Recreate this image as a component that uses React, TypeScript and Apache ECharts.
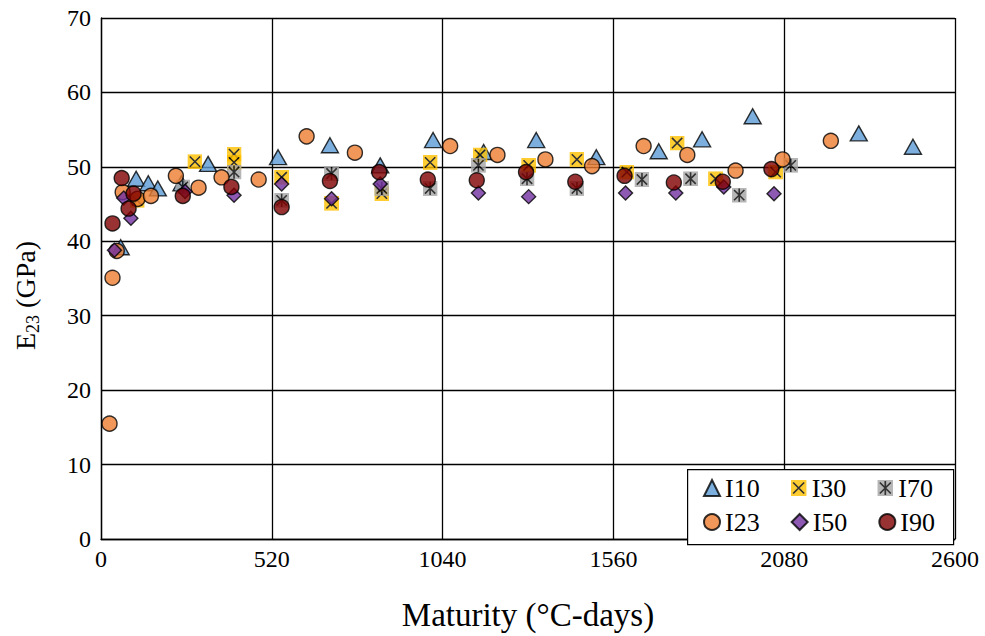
import React, { useEffect, useRef } from "react";
import * as echarts from "echarts";

const xTicks = [0, 520, 1040, 1560, 2080, 2600];
const yTicks = [0, 10, 20, 30, 40, 50, 60, 70];

const i10X = [60, 107, 144, 173, 245, 326, 539, 697, 850, 1011, 1165, 1325, 1508, 1698, 1830, 1984, 2307, 2472];
const i10Y = [39.2, 48.4, 47.8, 47.1, 47.8, 50.4, 51.3, 52.9, 50.2, 53.6, 52.0, 53.6, 51.3, 52.1, 53.7, 56.8, 54.5, 52.7];

const i30X = [110, 286, 405, 405, 550, 702, 855, 1002, 1154, 1302, 1449, 1601, 1754, 1871, 2054];
const i30Y = [45.5, 50.7, 51.7, 50.6, 48.6, 45.1, 46.4, 50.6, 51.6, 50.2, 51.0, 49.3, 53.2, 48.4, 49.3];

const i70X = [249, 405, 550, 702, 855, 1002, 1149, 1297, 1449, 1647, 1795, 1943, 2100];
const i70Y = [47.3, 49.3, 45.5, 49.1, 47.1, 47.1, 50.2, 48.4, 47.1, 48.3, 48.4, 46.2, 50.2];

const i23X = [26, 35, 48, 66, 111, 152, 228, 297, 367, 480, 626, 773, 1063, 1207, 1353, 1495, 1652, 1785, 1932, 2075, 2222];
const i23Y = [15.5, 35.1, 38.7, 46.6, 45.7, 46.1, 48.8, 47.2, 48.6, 48.3, 54.1, 51.9, 52.8, 51.6, 51.0, 50.1, 52.8, 51.6, 49.5, 51.0, 53.5];

const i50X = [41, 69, 91, 256, 405, 550, 702, 850, 1149, 1302, 1597, 1750, 1896, 2049];
const i50Y = [38.8, 45.8, 43.1, 46.7, 46.2, 47.7, 45.7, 47.7, 46.5, 46.0, 46.5, 46.5, 47.3, 46.4];

const i90X = [35, 63, 84, 99, 249, 397, 550, 697, 847, 995, 1144, 1294, 1444, 1594, 1744, 1893, 2041];
const i90Y = [42.4, 48.5, 44.4, 46.4, 46.1, 47.3, 44.6, 48.1, 49.3, 48.3, 48.2, 49.3, 48.0, 48.8, 47.9, 48.0, 49.7];

const FONT = "'Liberation Serif', 'Times New Roman', serif";

const zip = (xs: number[], ys: number[]) => xs.map((x, i) => [x, ys[i]]);

const svgIcon = (fill: string, path: string) =>
  "image://data:image/svg+xml;utf8," +
  encodeURIComponent(
    `<svg xmlns='http://www.w3.org/2000/svg' width='16' height='16' viewBox='0 0 16 16'><rect width='16' height='16' fill='${fill}'/><path d='${path}' stroke='black' stroke-width='1.7' fill='none'/></svg>`
  );

const xSym = svgIcon("#FFC000", "M2.5 2.5L13.5 13.5M13.5 2.5L2.5 13.5");
const starSym = svgIcon("#A5A5A5", "M2.5 2.5L13.5 13.5M13.5 2.5L2.5 13.5M8 1V15");

export default function App() {
  const ref = useRef<HTMLDivElement>(null);
  useEffect(() => {
    document.body.style.margin = "0";
    const chart = echarts.init(ref.current!, undefined, { renderer: "svg" });
    const border = { borderColor: "#000", borderWidth: 1.4 };
    const option: any = {
      animation: false,
      backgroundColor: "#fff",
      textStyle: { fontFamily: FONT },
      grid: { left: 101, right: 30, top: 18, bottom: 92, containLabel: false },
      xAxis: {
        type: "value",
        min: 0,
        max: 2600,
        interval: 520,
        name: "Maturity (°C-days)",
        nameLocation: "middle",
        nameGap: 59,
        nameTextStyle: { fontFamily: FONT, fontSize: 33, color: "#000" },
        axisLine: { show: true, lineStyle: { color: "#000", width: 1.3 } },
        axisTick: { show: false },
        axisLabel: {
          fontFamily: FONT,
          fontSize: 24,
          color: "#000",
          margin: 8,
          formatter: (v: number) => (xTicks.includes(v) ? String(v) : ""),
        },
        splitLine: { show: true, lineStyle: { color: "#000", width: 1.3 } },
      },
      yAxis: {
        type: "value",
        min: 0,
        max: 70,
        interval: 10,
        name: "{a|E}{b|23}{a| (GPa)}",
        nameLocation: "middle",
        nameRotate: 90,
        nameGap: 59,
        nameTextStyle: {
          color: "#000",
          padding: [0, 34, 0, 0],
          rich: {
            a: { fontFamily: FONT, fontSize: 28, color: "#000", lineHeight: 34, verticalAlign: "middle" },
            b: { fontFamily: FONT, fontSize: 18, color: "#000", lineHeight: 20, verticalAlign: "bottom" },
          },
        },
        axisLine: { show: true, lineStyle: { color: "#000", width: 1.3 } },
        axisTick: { show: false },
        axisLabel: {
          fontFamily: FONT,
          fontSize: 24,
          color: "#000",
          margin: 10,
          formatter: (v: number) => (yTicks.includes(v) ? String(v) : ""),
        },
        splitLine: { show: true, lineStyle: { color: "#000", width: 1.3 } },
      },
      graphic: [
        {
          type: "rect",
          left: 687,
          top: 469,
          z: 10,
          shape: { width: 266, height: 75 },
          style: { fill: "#fff", stroke: "#000", lineWidth: 1.2 },
        },
      ],
      legend: [
        {
          data: ["I10", "I30", "I70"],
          left: 703,
          top: 475,
          z: 20,
          padding: 0,
          itemWidth: 16,
          itemHeight: 16,
          itemGap: 31,
          textStyle: { fontFamily: FONT, fontSize: 26, color: "#000", lineHeight: 26 },
        },
        {
          data: ["I23", "I50", "I90"],
          left: 703,
          top: 509,
          z: 20,
          padding: 0,
          itemWidth: 16,
          itemHeight: 16,
          itemGap: 31,
          textStyle: { fontFamily: FONT, fontSize: 26, color: "#000", lineHeight: 26 },
        },
      ],
      series: [
        {
          name: "I10",
          type: "scatter",
          symbol: "triangle",
          symbolSize: [17, 15],
          itemStyle: { color: "#5B9BD5", ...border },
          data: zip(i10X, i10Y),
        },
        {
          name: "I30",
          type: "scatter",
          symbol: xSym,
          symbolSize: 15,
          itemStyle: { color: "#FFC000" },
          data: zip(i30X, i30Y),
        },
        {
          name: "I70",
          type: "scatter",
          symbol: starSym,
          symbolSize: 15,
          itemStyle: { color: "#A5A5A5" },
          data: zip(i70X, i70Y),
        },
        {
          name: "I23",
          type: "scatter",
          symbol: "circle",
          symbolSize: 15,
          itemStyle: { color: "#ED7D31", ...border },
          data: zip(i23X, i23Y),
        },
        {
          name: "I50",
          type: "scatter",
          symbol: "diamond",
          symbolSize: 14,
          itemStyle: { color: "#7030A0", ...border },
          data: zip(i50X, i50Y),
        },
        {
          name: "I90",
          type: "scatter",
          symbol: "circle",
          symbolSize: 15,
          itemStyle: { color: "#800000", ...border },
          data: zip(i90X, i90Y),
        },
      ],
    };
    chart.setOption(option);
    return () => chart.dispose();
  }, []);
  return <div ref={ref} style={{ width: 985, height: 636 }} />;
}
